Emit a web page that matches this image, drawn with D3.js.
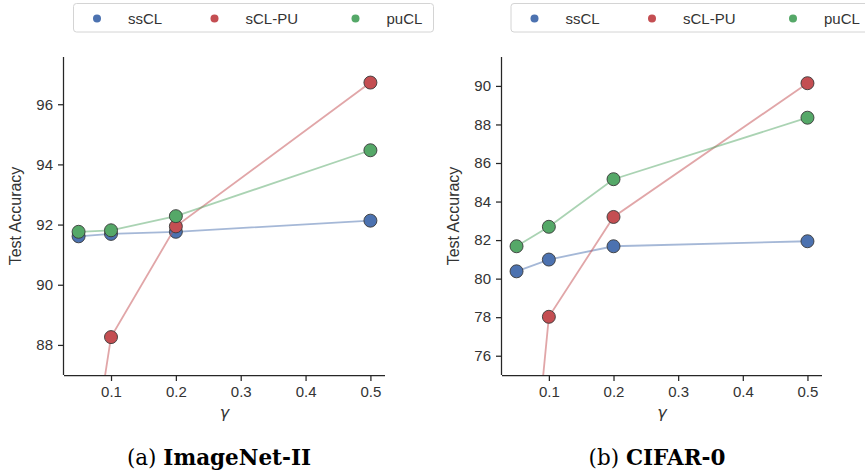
<!DOCTYPE html>
<html>
<head>
<meta charset="utf-8">
<script src="https://cdn.jsdelivr.net/npm/d3@7"></script>
<style>
  body { margin: 0; background: #fff; }
  svg { display: block; }
</style>
</head>
<body>
<div id="chart"></div>
<script>
// gamma values on the x axis
var gammas = [0.05, 0.1, 0.2, 0.5];
var xTicks = [0.1, 0.2, 0.3, 0.4, 0.5];
var seriesNames = ['ssCL', 'sCL-PU', 'puCL'];
var seriesColors = ['#4c72b0', '#c44e52', '#55a868'];

// ImageNet-II
var imagenetSsCL = [91.61, 91.69, 91.76, 92.13];
var imagenetSclPu = [81.3, 88.26, 91.94, 96.72];
var imagenetPuCL = [91.76, 91.81, 92.28, 94.47];
var imagenetTicks = [88, 90, 92, 94, 96];

// CIFAR-0
var cifarSsCL = [80.38, 80.99, 81.68, 81.94];
var cifarSclPu = [60.7, 78.02, 83.2, 90.14];
var cifarPuCL = [81.68, 82.69, 85.16, 88.35];
var cifarTicks = [76, 78, 80, 82, 84, 86, 88, 90];

var sans = '"Liberation Sans", Arial, sans-serif';
var width = 865, height = 472;
var svg = d3.select('#chart').append('svg')
  .attr('width', width).attr('height', height);

var defs = svg.append('defs');

function drawPanel(opts) {
  var left = opts.left, right = opts.right, top = 57, bottom = 375;
  var id = opts.id;

  var x = d3.scaleLinear().domain([0.0275, 0.5225]).range([left, right]);
  var y = d3.scaleLinear().domain(opts.yDomain).range([bottom, top]);

  defs.append('clipPath').attr('id', 'clip-' + id)
    .append('rect')
    .attr('x', left).attr('y', top)
    .attr('width', right - left).attr('height', bottom - top);

  var g = svg.append('g');

  // axes
  var xAxis = g.append('g')
    .attr('transform', 'translate(0,' + bottom + ')')
    .call(d3.axisBottom(x).tickValues(xTicks).tickSize(6).tickPadding(5).tickFormat(d3.format('.1f')));
  var yAxis = g.append('g')
    .attr('transform', 'translate(' + left + ',0)')
    .call(d3.axisLeft(y).tickValues(opts.yTicks).tickSize(6).tickPadding(5).tickFormat(d3.format('d')));

  [xAxis, yAxis].forEach(function(a) {
    a.select('.domain').attr('stroke', '#262626').attr('stroke-width', 1.25);
    a.selectAll('.tick line').attr('stroke', '#262626').attr('stroke-width', 1.25);
    a.selectAll('.tick text').style('font-size', '15px').style('fill', '#333')
      .style('font-family', sans);
  });
  // no outer tick ends on the spines
  xAxis.select('.domain').attr('d', 'M' + left + ',0.5H' + right);
  yAxis.select('.domain').attr('d', 'M-0.5,' + top + 'V' + bottom);

  // axis labels
  g.append('text')
    .attr('transform', 'translate(' + (left - 43) + ',' + ((top + bottom) / 2) + ') rotate(-90)')
    .attr('text-anchor', 'middle')
    .style('font-family', sans).style('font-size', '16px').style('fill', '#333')
    .text('Test Accuracy');

  g.append('text')
    .attr('x', (left + right) / 2).attr('y', 418)
    .attr('text-anchor', 'middle')
    .style('font-family', '"DejaVu Sans", sans-serif')
    .style('font-style', 'oblique').style('font-size', '16px').style('fill', '#333')
    .text('γ');

  // series
  var plot = g.append('g').attr('clip-path', 'url(#clip-' + id + ')');
  var line = d3.line().x(function(d) { return x(d[0]); }).y(function(d) { return y(d[1]); });

  opts.series.forEach(function(vals, i) {
    var pts = gammas.map(function(gm, j) { return [gm, vals[j]]; });
    plot.append('path')
      .attr('d', line(pts))
      .attr('fill', 'none')
      .attr('stroke', seriesColors[i])
      .attr('stroke-opacity', 0.5)
      .attr('stroke-width', 1.8);
    plot.selectAll('circle.s' + i)
      .data(pts)
      .enter().append('circle')
      .attr('class', 's' + i)
      .attr('cx', function(d) { return x(d[0]); })
      .attr('cy', function(d) { return y(d[1]); })
      .attr('r', 6.5)
      .attr('fill', seriesColors[i])
      .attr('stroke', '#3a3a3a')
      .attr('stroke-width', 0.9);
  });

  // legend
  var lg = g.append('g');
  lg.append('rect')
    .attr('x', opts.legendX).attr('y', 3.5)
    .attr('width', 360).attr('height', 28.5)
    .attr('rx', 3)
    .attr('fill', '#fff')
    .attr('stroke', '#d4d4d4')
    .attr('stroke-width', 1);
  var markerOffsets = [23.5, 141, 282];
  seriesNames.forEach(function(name, i) {
    var mx = opts.legendX + markerOffsets[i];
    lg.append('circle')
      .attr('cx', mx).attr('cy', 18.5)
      .attr('r', 4)
      .attr('fill', seriesColors[i]);
    lg.append('text')
      .attr('x', mx + 31).attr('y', 24)
      .style('font-family', sans).style('font-size', '15px').style('fill', '#333')
      .text(name);
  });

  // caption
  var cap = svg.append('text')
    .attr('x', opts.captionX).attr('y', 465)
    .attr('text-anchor', 'middle')
    .style('font-family', '"DejaVu Serif", "Liberation Serif", serif')
    .style('font-size', '21.5px')
    .style('fill', '#000');
  cap.append('tspan').text(opts.captionA + ' ');
  cap.append('tspan').style('font-weight', 'bold').text(opts.captionB);
}

drawPanel({
  id: 'a', left: 64, right: 385,
  yDomain: [87, 97.57], yTicks: imagenetTicks,
  series: [imagenetSsCL, imagenetSclPu, imagenetPuCL],
  legendX: 73.5, captionX: 219, captionA: '(a)', captionB: 'ImageNet-II'
});

drawPanel({
  id: 'b', left: 502, right: 822,
  yDomain: [75, 91.5], yTicks: cifarTicks,
  series: [cifarSsCL, cifarSclPu, cifarPuCL],
  legendX: 511, captionX: 657, captionA: '(b)', captionB: 'CIFAR-0'
});
</script>
</body>
</html>
